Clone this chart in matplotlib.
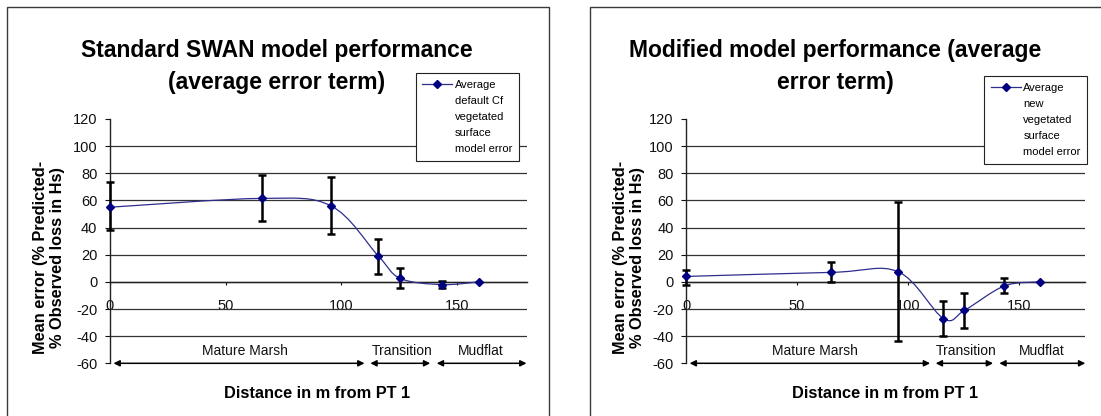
import numpy as np
import matplotlib
matplotlib.use('Agg')
import matplotlib.pyplot as plt
from matplotlib.path import Path
from matplotlib.patches import PathPatch, Rectangle
from matplotlib.lines import Line2D

plt.rcParams['font.family'] = ['Liberation Sans', 'DejaVu Sans']
plt.rcParams['axes.unicode_minus'] = False

# ---------------- data ----------------
distance_m = [0, 65.5, 95.5, 116, 125.5, 143.5, 159.5]

std_error = [55, 61.5, 56, 19, 2.5, -2, 0]
std_low = [38, 44.5, 35, 6, -4.5, -4.5, None]
std_high = [73.5, 79, 77.5, 31.5, 10, 1, None]

mod_error = [4, 7, 7.5, -27, -21, -3, 0]
mod_low = [-2, 0, -43.5, -40, -34, -8.5, None]
mod_high = [8.5, 14.5, 59, -14, -8.5, 3, None]

y_ticks = [-60, -40, -20, 0, 20, 40, 60, 80, 100, 120]
x_ticks = [0, 50, 100, 150]

region_names = ['Mature Marsh', 'Transition', 'Mudflat']
region_start = [1.5, 112.5, 141.2]
region_end = [110, 138.4, 180]
region_label_x = [58.2, 126.4, 160.2]

titles = [('Standard SWAN model performance', '(average error term)'),
          ('Modified model performance (average', 'error term)')]
legend_labels = [['Average', 'default Cf', 'vegetated', 'surface', 'model error'],
                 ['Average', 'new', 'vegetated', 'surface', 'model error']]
y_label = 'Mean error (% Predicted-\n% Observed loss in Hs)'
x_label = 'Distance in m from PT 1'

# ---------------- layout ----------------
W, H = 1101, 416
fig = plt.figure(figsize=(W / 100, H / 100), dpi=100)
fig.patch.set_facecolor('white')

LINE_C = '#2e2e8c'
MARK_C = '#000080'


def fx(px):
    return px / W


def fy(py):
    return 1 - py / H


def smooth_path(x, y):
    pts = np.column_stack([x, y]).astype(float)
    n = len(pts)
    verts = [pts[0]]
    codes = [Path.MOVETO]
    for i in range(n - 1):
        p0 = pts[i - 1] if i > 0 else pts[i]
        p1 = pts[i]
        p2 = pts[i + 1]
        p3 = pts[i + 2] if i + 2 < n else pts[i + 1]
        c1 = p1 + (p2 - p0) / 6.0
        c2 = p2 - (p3 - p1) / 6.0
        verts += [c1, c2, p2]
        codes += [Path.CURVE4] * 3
    return Path(verts, codes)


panels = [
    dict(frame=(7.3, 549.3), ax=(110, 416.5), err=(std_error, std_low, std_high),
         title_x=277, legend=(415.6, 73), ylab_x=49.1, xlab_x=316.7),
    dict(frame=(590.3, 1110), ax=(686.3, 399), err=(mod_error, mod_low, mod_high),
         title_x=835, legend=(984, 76), ylab_x=629, xlab_x=884.7),
]

for k, p in enumerate(panels):
    # chart frame
    x0, x1 = p['frame']
    fig.patches.append(Rectangle((fx(x0), -0.1), fx(x1) - fx(x0), fy(6.5) + 0.1,
                                 transform=fig.transFigure, fill=False,
                                 edgecolor='#3a3a3a', lw=1.0, zorder=0))

    ax_left, ax_w = p['ax']
    ax = fig.add_axes([fx(ax_left), fy(363.3), ax_w / W, 244.3 / H])
    ax.set_xlim(0, 180)
    ax.set_ylim(-60, 120)
    ax.patch.set_alpha(0)

    for s in ['top', 'right']:
        ax.spines[s].set_visible(False)
    ax.spines['bottom'].set_position(('data', 0))
    ax.spines['left'].set_color('#222222')
    ax.spines['bottom'].set_color('#222222')
    ax.spines['left'].set_linewidth(1.0)
    ax.spines['bottom'].set_linewidth(1.0)

    ax.set_yticks(y_ticks)
    ax.set_xticks(x_ticks)
    ax.tick_params(axis='y', direction='out', length=3.6, width=0.8,
                   labelsize=10.5, pad=5.5, colors='#111111')
    ax.tick_params(axis='x', direction='out', length=2.5, width=0.8,
                   labelsize=10.5, pad=9.5, colors='#111111')

    ax.yaxis.grid(True, color='#333333', lw=0.9)
    gl = ax.get_ygridlines()
    gl[0].set_visible(False)
    gl[-1].set_visible(False)
    ax.set_axisbelow(True)

    yv, lo, hi = p['err']
    yv = np.array(yv, dtype=float)
    lo = np.array([np.nan if v is None else v for v in lo], dtype=float)
    hi = np.array([np.nan if v is None else v for v in hi], dtype=float)
    xv = np.array(distance_m, dtype=float)
    m = ~np.isnan(lo)

    # smoothed series line
    ax.add_patch(PathPatch(smooth_path(xv, yv), fill=False, edgecolor=LINE_C,
                           lw=0.9, zorder=3, clip_on=False))
    eb = ax.errorbar(xv[m], yv[m], yerr=[yv[m] - lo[m], hi[m] - yv[m]], fmt='none',
                     ecolor='black', elinewidth=1.8, capsize=3.2, capthick=1.8, zorder=4)
    for art in eb.lines[1] + eb.lines[2]:
        art.set_clip_on(False)
    ax.plot(xv, yv, ls='none', marker='D', ms=4.2, color=MARK_C, zorder=5, clip_on=False)

    # regions
    for name, s, e, lx in zip(region_names, region_start, region_end, region_label_x):
        ax.annotate('', xy=(e, -60), xytext=(s, -60), annotation_clip=False,
                    arrowprops=dict(arrowstyle='<|-|>', color='black', lw=1.1,
                                    mutation_scale=9, shrinkA=0, shrinkB=0))
        ax.text(lx, -51, name, ha='center', va='center', fontsize=10, color='#111111')

    # titles
    t1, t2 = titles[k]
    fig.text(fx(p['title_x']), fy(50.5), t1, ha='center', va='center',
             fontsize=16.5, fontweight='bold')
    fig.text(fx(p['title_x']), fy(82), t2, ha='center', va='center',
             fontsize=16.5, fontweight='bold')

    # axis labels
    fig.text(fx(p['ylab_x']), fy(257), y_label, rotation=90, ha='center', va='center',
             multialignment='center', fontsize=11.8, fontweight='bold', linespacing=1.15)
    fig.text(fx(p['xlab_x']), fy(394), x_label, ha='center', va='center',
             fontsize=11.8, fontweight='bold')

    # legend
    proxy = Line2D([], [], color=LINE_C, lw=0.9, marker='D', ms=4.2,
                   markerfacecolor=MARK_C, markeredgecolor=MARK_C)
    blanks = [Line2D([], [], ls='none', marker='none') for _ in range(4)]
    lx0, ly0 = p['legend']
    leg = ax.legend([proxy] + blanks, legend_labels[k], loc='upper left',
                    bbox_to_anchor=(fx(lx0), fy(ly0)), bbox_transform=fig.transFigure,
                    borderaxespad=0, fontsize=8, handlelength=2.7, handletextpad=0.25,
                    borderpad=0.6, labelspacing=0.55, fancybox=False, framealpha=1,
                    edgecolor='#222222')
    leg.get_frame().set_linewidth(0.8)
    leg.set_zorder(10)

fig.savefig('out.png', dpi=100, facecolor='white')
